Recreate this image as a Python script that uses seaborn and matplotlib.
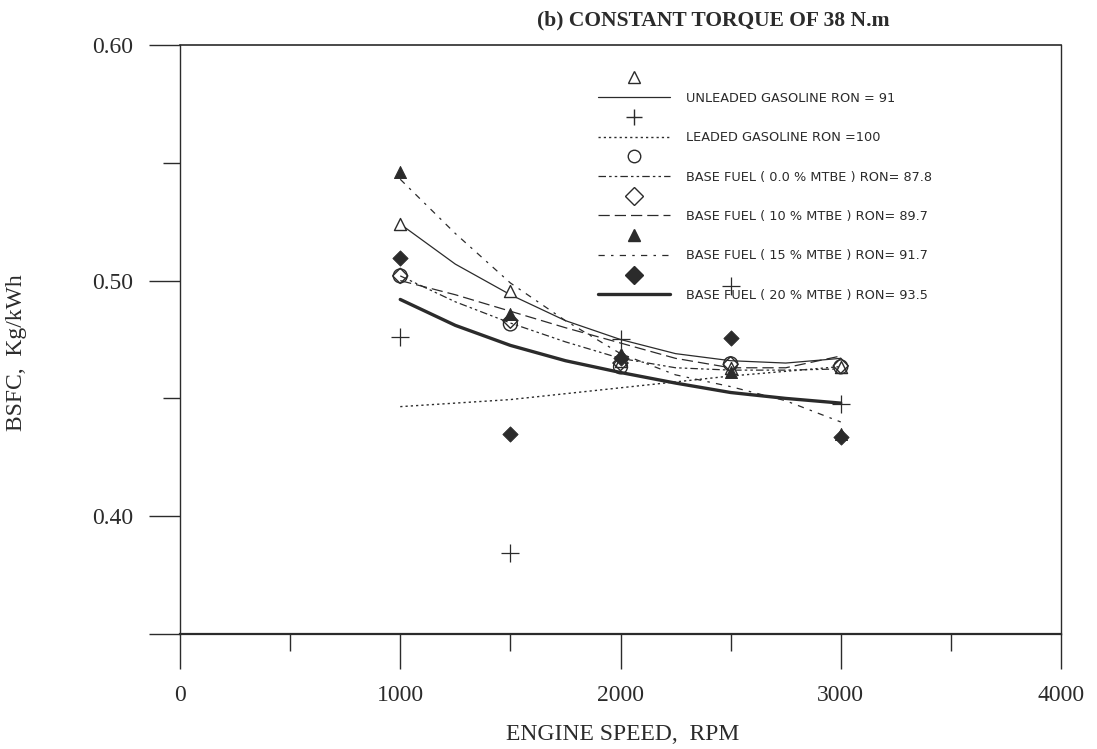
import matplotlib
matplotlib.use("Agg")
import matplotlib.pyplot as plt
import seaborn as sns
import numpy as np
import pandas as pd
from matplotlib.lines import Line2D

# ---------------- data ----------------
rpm = [1000, 1500, 2000, 2500, 3000]
unleaded_pts = [0.524, 0.4956, 0.466, 0.463, 0.4634]
leaded_pts = [0.476, 0.3844, 0.4753, 0.4978, 0.4478]
mtbe0_pts = [0.502, 0.4816, 0.4634, 0.4647, 0.4634]
mtbe10_pts = [0.502, 0.483, 0.465, 0.4645, 0.4638]
mtbe15_pts = [0.546, 0.486, 0.469, 0.4613, 0.435]
mtbe20_pts = [0.5095, 0.4347, 0.467, 0.4757, 0.4338]

rpm_fit = [1000, 1250, 1500, 1750, 2000, 2250, 2500, 2750, 3000]
unleaded_fit = [0.524, 0.507, 0.494, 0.483, 0.475, 0.469, 0.466, 0.465, 0.467]
leaded_fit = [0.4465, 0.448, 0.4495, 0.452, 0.4545, 0.457, 0.4595, 0.4615, 0.4635]
mtbe0_fit = [0.502, 0.491, 0.482, 0.474, 0.467, 0.463, 0.462, 0.462, 0.4625]
mtbe10_fit = [0.500, 0.494, 0.487, 0.480, 0.4735, 0.467, 0.463, 0.463, 0.468]
mtbe15_fit = [0.543, 0.520, 0.499, 0.483, 0.469, 0.460, 0.455, 0.449, 0.440]
mtbe20_fit = [0.492, 0.481, 0.4725, 0.466, 0.461, 0.4565, 0.4525, 0.450, 0.448]

labels = [
    "UNLEADED GASOLINE RON = 91",
    "LEADED GASOLINE RON =100",
    "BASE FUEL ( 0.0 % MTBE ) RON= 87.8",
    "BASE FUEL ( 10 % MTBE ) RON= 89.7",
    "BASE FUEL ( 15 % MTBE ) RON= 91.7",
    "BASE FUEL ( 20 % MTBE ) RON= 93.5",
]
x_ticks = [0, 1000, 2000, 3000, 4000]
y_ticks = [0.35, 0.40, 0.50, 0.60]
y_tick_labels = ["", "0.40", "0.50", "0.60"]

# ---------------- style ----------------
sns.set_style("ticks")
plt.rcParams["font.family"] = ["Liberation Serif", "DejaVu Serif"]
INK = "#2b2b2b"

fig = plt.figure(figsize=(10.97, 7.49), dpi=100)
ax = fig.add_axes([180 / 1097, 1 - 634 / 749, (1061 - 180) / 1097, (634 - 45) / 749])

points = [unleaded_pts, leaded_pts, mtbe0_pts, mtbe10_pts, mtbe15_pts, mtbe20_pts]
fits = [unleaded_fit, leaded_fit, mtbe0_fit, mtbe10_fit, mtbe15_fit, mtbe20_fit]

line_styles = [
    dict(linestyle="-", linewidth=0.9),
    dict(linestyle=(0, (1.6, 2.2)), linewidth=1.0),
    dict(linestyle=(0, (6, 2.5, 2, 2.5, 2, 2.5)), linewidth=0.9),
    dict(linestyle=(0, (9, 4)), linewidth=0.9),
    dict(linestyle=(0, (5, 5, 2, 5)), linewidth=0.9),
    dict(linestyle="-", linewidth=2.4),
]
marker_styles = [
    dict(marker="^", s=75, facecolors="white", edgecolors=INK, linewidths=1.0),
    dict(marker="+", s=150, color=INK, linewidths=0.9),
    dict(marker="o", s=100, facecolors="none", edgecolors=INK, linewidths=1.0),
    dict(marker="D", s=60, facecolors="none", edgecolors=INK, linewidths=1.0),
    dict(marker="^", s=75, color=INK, edgecolors=INK),
    dict(marker="D", s=60, color=INK, edgecolors=INK),
]

for fit, ls in zip(fits, line_styles):
    sns.lineplot(x=rpm_fit, y=fit, ax=ax, color=INK, **ls)

for pts, ms in zip(points, marker_styles):
    sns.scatterplot(x=rpm, y=pts, ax=ax, zorder=3, **ms)

ax.set_xlim(0, 4000)
ax.set_ylim(0.35, 0.60)
ax.set_xticks(x_ticks)
ax.set_xticks([500, 1500, 2500, 3500], minor=True)
ax.set_yticks(y_ticks)
ax.set_yticklabels(y_tick_labels)
ax.set_yticks([0.45, 0.55], minor=True)

ax.tick_params(axis="both", which="both", direction="out", colors=INK, labelsize=17)
ax.tick_params(axis="y", which="major", length=22, width=1.0, pad=12)
ax.tick_params(axis="y", which="minor", length=12, width=1.0)
ax.tick_params(axis="x", which="major", length=25, width=1.0, pad=12)
ax.tick_params(axis="x", which="minor", length=12, width=1.0)
for side, sp in ax.spines.items():
    sp.set_visible(True)
    sp.set_color(INK)
    sp.set_linewidth(1.0)
ax.spines["bottom"].set_linewidth(1.6)
ax.spines["top"].set_linewidth(1.2)

ax.set_xlabel("ENGINE SPEED,  RPM", fontsize=17, color=INK)
ax.set_ylabel("BSFC,  Kg/kWh", fontsize=17, color=INK)
ax.xaxis.set_label_coords(0.502, -0.152)
ax.yaxis.set_label_coords(-0.174, 0.477)

ax.text(0.605, 1.042, "(b) CONSTANT TORQUE OF 38 N.m", transform=ax.transAxes,
        ha="center", va="center", fontsize=15.5, fontweight="bold", color=INK)

# ---------------- legend (marker row above line row) ----------------
handles, leg_labels = [], []
for ms, ls, lab in zip(marker_styles, line_styles, labels):
    mk = ms["marker"]
    filled = ms.get("facecolors", INK) not in ("white", "none")
    handles.append(Line2D([], [], linestyle="none", marker=mk,
                          markersize=9 if mk != "+" else 11,
                          markerfacecolor=INK if filled else "white",
                          markeredgecolor=INK, markeredgewidth=1.0))
    leg_labels.append(" ")
    handles.append(Line2D([], [], color=INK, **ls))
    leg_labels.append(lab)

leg = ax.legend(handles, leg_labels, loc="upper left",
                bbox_to_anchor=(598 / 1097, 1 - 72 / 749), bbox_transform=fig.transFigure,
                frameon=False, borderaxespad=0, borderpad=0,
                handlelength=5.6, handletextpad=1.2, labelspacing=0.52,
                prop={"family": "DejaVu Sans", "size": 9.3})
for t in leg.get_texts():
    t.set_color(INK)

fig.savefig("out.png", dpi=100, facecolor="white")
